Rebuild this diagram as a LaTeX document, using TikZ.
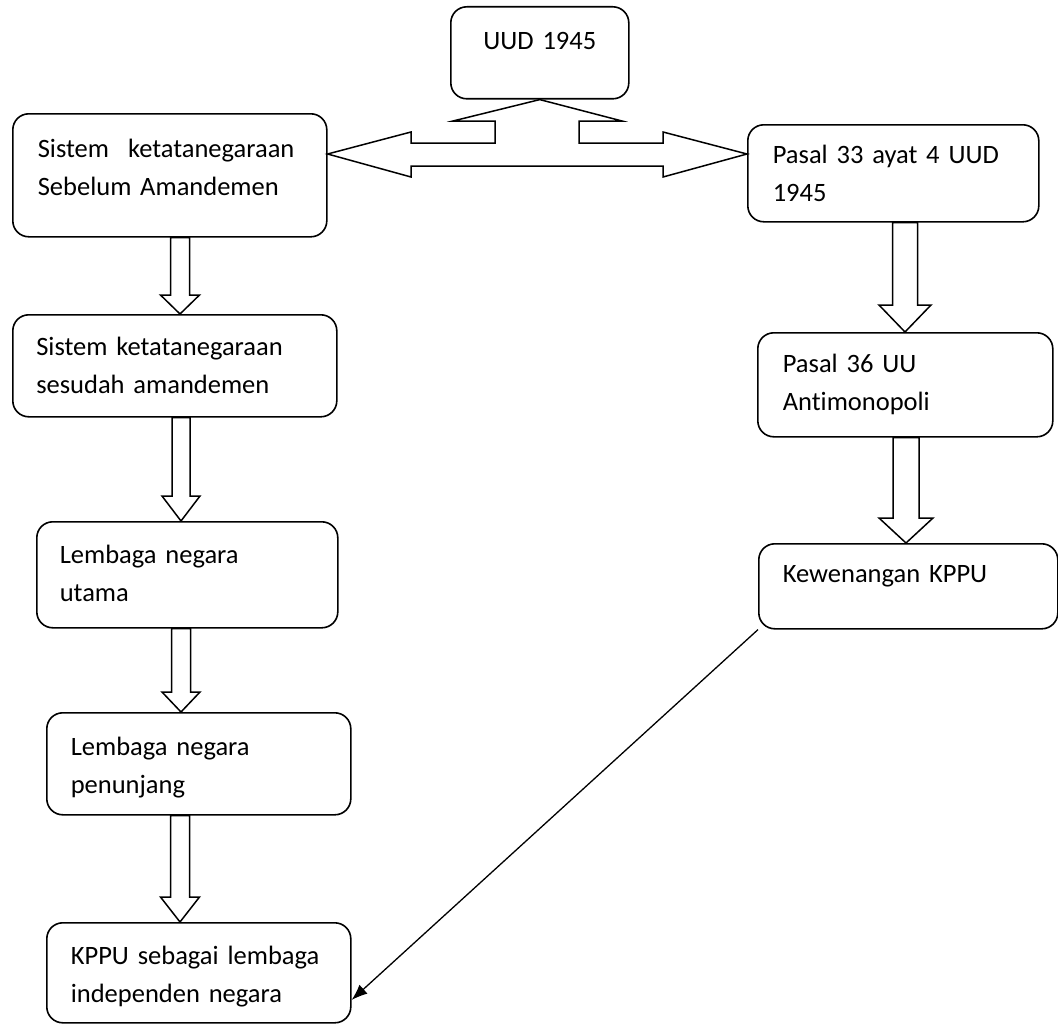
\documentclass[tikz,border=0pt]{standalone}
\usepackage{fontspec}
\setmainfont[Ligatures=NoCommon]{Carlito}
\usetikzlibrary{calc,arrows.meta}
\tikzset{
  box/.style={draw, line width=1.6pt, rounded corners=16pt, inner ysep=0pt,
    align=left, font=\fontsize{26.5}{38}\selectfont, anchor=north west},
  barrow/.style={draw, fill=white, line width=1.5pt, line join=miter},
  thinarrow/.style={draw, line width=1.3pt, -{Latex[length=16pt,width=12pt]}}
}
\newcommand\downblock[6]{%
  \draw[barrow] let \p1=(#1.south), \p2=(#2.north) in
    ({#3pt-#4pt},\y1) -- ({#3pt-#4pt},{\y2+#6pt}) -- ({#3pt-#5pt},{\y2+#6pt})
    -- (#3pt,\y2) -- ({#3pt+#5pt},{\y2+#6pt}) -- ({#3pt+#4pt},{\y2+#6pt})
    -- ({#3pt+#4pt},\y1) -- cycle;}
\begin{document}
\begin{tikzpicture}[x=1pt,y=-1pt]
\useasboundingbox (0,0) rectangle (1058,1025);
% boxes
\node[box, inner xsep=10pt, text width=158pt, align=center, text height=43pt, text depth=49pt] (uud) at (450,6) {UUD 1945};
\node[box, inner xsep=25pt, text width=264pt, text height=44pt, text depth=79pt] (b1) at (12,113)
  {\mbox{Sistem\hspace{19pt}ketatanegaraan}\\\mbox{Sebelum Amandemen}};
\node[box, inner xsep=23.5pt, text width=277pt, text height=41pt, text depth=61pt] (b2) at (12,314)
  {\mbox{Sistem ketatanegaraan}\\\mbox{sesudah amandemen}};
\node[box, inner xsep=23pt, text width=255pt, text height=42pt, text depth=64pt] (b3) at (36,521)
  {\mbox{Lembaga negara}\\\mbox{utama}};
\node[box, inner xsep=24pt, text width=256pt, text height=43pt, text depth=59pt] (b4) at (46,712)
  {\mbox{Lembaga negara}\\\mbox{penunjang}};
\node[box, inner xsep=24pt, text width=256pt, text height=42pt, text depth=58pt] (b5) at (46,922)
  {\mbox{KPPU sebagai lembaga}\\\mbox{independen negara}};
\node[box, inner xsep=25pt, text width=241pt, text height=39pt, text depth=58pt] (p33) at (747,124)
  {\mbox{Pasal 33 ayat 4 UUD}\\\mbox{1945}};
\node[box, inner xsep=25pt, text width=245pt, text height=40pt, text depth=64pt] (p36) at (757,332)
  {\mbox{Pasal 36 UU}\\\mbox{Antimonopoli}};
\node[box, inner xsep=24pt, text width=251pt, text height=39pt, text depth=46pt] (kw) at (758,543)
  {\mbox{Kewenangan KPPU}};
% top double block arrow
\draw[barrow] (uud.south) -- (453,121) -- (495,121) -- (495,143) -- (411,143) -- (411,132)
  -- (b1.east |- 0,154) -- (411,177) -- (411,166) -- (663,166) -- (663,177)
  -- (p33.west |- 0,154) -- (663,132) -- (663,143) -- (579,143) -- (579,121)
  -- (622,121) -- cycle;
% down block arrows
\downblock{b1}{b2}{180}{9.5}{19.5}{19}
\downblock{b2}{b3}{181}{9}{19}{25}
\downblock{b3}{b4}{181}{9.5}{19}{20}
\downblock{b4}{b5}{180}{9.5}{19.5}{25}
\downblock{p33}{p36}{905}{12.5}{26}{27}
\downblock{p36}{kw}{906}{13}{27}{25}
% diagonal arrow
\draw[thinarrow] (kw.south west) -- (b5.east |- 0,1000);
\end{tikzpicture}
\end{document}
